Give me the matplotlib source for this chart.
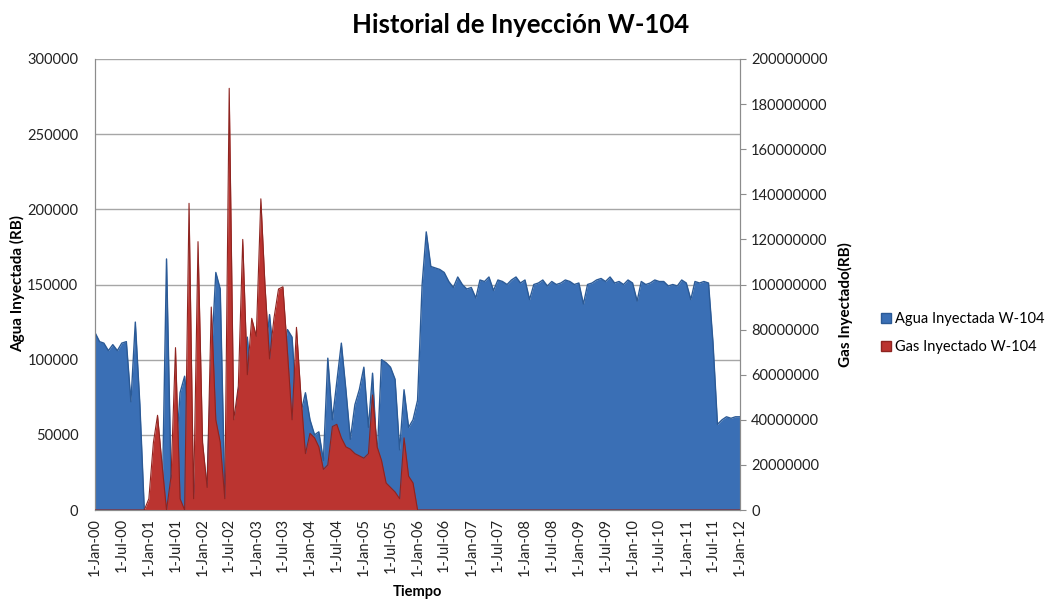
import matplotlib
matplotlib.use("Agg")
import matplotlib.pyplot as plt
from matplotlib.patches import Patch
import numpy as np
import pandas as pd

plt.rcParams['font.family'] = ['Lato', 'DejaVu Sans']

# monthly injection, Jan-2000 .. Jan-2012
fechas = pd.date_range('2000-01-01', periods=145, freq='MS')

agua = [
    118000, 112000, 111000, 106000, 110000, 106000, 111000, 112000, 72000, 125000, 70000, 0,
    0, 0, 0, 0, 167000, 20000, 30000, 78000, 89000, 60000, 5000, 50000,
    5000, 20000, 100000, 158000, 147000, 10000, 70000, 50000, 80000, 90000, 115000, 80000,
    100000, 90000, 100000, 130000, 100000, 90000, 100000, 120000, 115000, 70000, 65000, 78000,
    60000, 50000, 52000, 33000, 101000, 60000, 85000, 111000, 80000, 47000, 70000, 80000,
    95000, 55000, 91000, 35000, 100000, 98000, 95000, 87000, 40000, 80000, 55000, 60000,
    73000, 150000, 185000, 162000, 161000, 160000, 158000, 152000, 148000, 155000, 150000, 147000,
    148000, 141000, 153000, 152000, 155000, 146000, 153000, 152000, 150000, 153000, 155000, 151000,
    153000, 140000, 150000, 151000, 153000, 149000, 152000, 150000, 151000, 153000, 152000, 150000,
    151000, 137000, 150000, 151000, 153000, 154000, 152000, 155000, 151000, 152000, 150000, 153000,
    151000, 139000, 152000, 150000, 151000, 153000, 152000, 152000, 149000, 150000, 149000, 153000,
    151000, 140000, 152000, 151000, 152000, 151000, 112000, 57000, 60000, 62000, 61000, 62000,
    62000,
]

gas = [
    0, 0, 0, 0, 0, 0, 0, 0, 0, 0, 0, 0,
    5e6, 30e6, 42e6, 20e6, 0, 15e6, 72e6, 5e6, 0, 136e6, 5e6, 119e6,
    30e6, 10e6, 90e6, 40e6, 30e6, 5e6, 187e6, 40e6, 55e6, 120e6, 60e6, 85e6,
    77e6, 138e6, 100e6, 67e6, 85e6, 98e6, 99e6, 70e6, 40e6, 81e6, 50e6, 25e6,
    34e6, 32e6, 28e6, 18e6, 20e6, 37e6, 38e6, 32e6, 28e6, 27e6, 25e6, 24e6,
    23e6, 25e6, 51e6, 28e6, 22e6, 12e6, 10e6, 8e6, 5e6, 32e6, 15e6, 12e6,
] + [0] * 73

ticks_x = pd.date_range('2000-01-01', '2012-01-01', freq='6MS')
etiquetas_x = ['1-' + d.strftime('%b-%y') for d in ticks_x]

azul = '#3a6fb5'
rojo = '#bb3430'
gris = '#8c8c8c'

fig = plt.figure(figsize=(10.48, 6.04), dpi=100)
ax = fig.add_axes([95 / 1048, 1 - 510 / 604, 645 / 1048, 451 / 604])
ax2 = ax.twinx()

ax.fill_between(fechas, 0, agua, color=azul, lw=0, zorder=2)
ax.plot(fechas, agua, color='#2b5a96', lw=1.0, zorder=3)
ax2.fill_between(fechas, 0, gas, color=rojo, lw=0, zorder=2)
ax2.plot(fechas, gas, color='#8e2420', lw=0.8, zorder=3)

ax.set_xlim(fechas[0], fechas[-1])
ax.set_ylim(0, 300000)
ax2.set_ylim(0, 200000000)
ax.set_yticks(np.arange(0, 300001, 50000))
ax2.set_yticks(np.arange(0, 200000001, 20000000))
ax.set_xticks(ticks_x)
ax.set_xticklabels(etiquetas_x, rotation=90, fontsize=10.5, color='#222222')
ax.yaxis.set_major_formatter(matplotlib.ticker.FuncFormatter(lambda v, p: f'{v:.0f}'))
ax2.yaxis.set_major_formatter(matplotlib.ticker.FuncFormatter(lambda v, p: f'{v:.0f}'))

ax.set_axisbelow(True)
ax.yaxis.grid(True, color='#a6a6a6', lw=1)
ax.tick_params(axis='y', length=0, labelsize=10.5, labelcolor='#222222', pad=12)
ax.tick_params(axis='x', length=0, pad=6)
ax2.tick_params(axis='y', length=4, color=gris, labelsize=10.5, labelcolor='#222222', pad=4)

for a in (ax, ax2):
    a.spines['top'].set_visible(False)
    for s in ('left', 'right', 'bottom'):
        a.spines[s].set_color(gris)

fig.text(0.497, 1 - 25 / 604, 'Historial de Inyección W-104', ha='center', va='center',
         fontsize=18.5, fontweight='bold')
fig.text(18 / 1048, 1 - 283 / 604, 'Agua Inyectada (RB)', rotation=90, ha='center', va='center',
         fontsize=11, fontweight='bold')
fig.text(845 / 1048, 1 - 305 / 604, 'Gas Inyectado(RB)', rotation=90, ha='center', va='center',
         fontsize=11, fontweight='bold')
fig.text(417 / 1048, 1 - 592 / 604, 'Tiempo', ha='center', va='center',
         fontsize=10.5, fontweight='bold')

handles = [Patch(facecolor=azul, edgecolor='#2b5a96'), Patch(facecolor=rojo, edgecolor='#8e2420')]
fig.legend(handles, ['Agua Inyectada W-104', 'Gas Inyectado W-104'],
           loc='upper left', bbox_to_anchor=(871 / 1048, 1 - 302 / 604), frameon=False,
           fontsize=10.5, handlelength=0.7, handleheight=0.7, handletextpad=0.25,
           labelspacing=0.95, borderaxespad=0.3)

fig.savefig('out.png', dpi=100)
